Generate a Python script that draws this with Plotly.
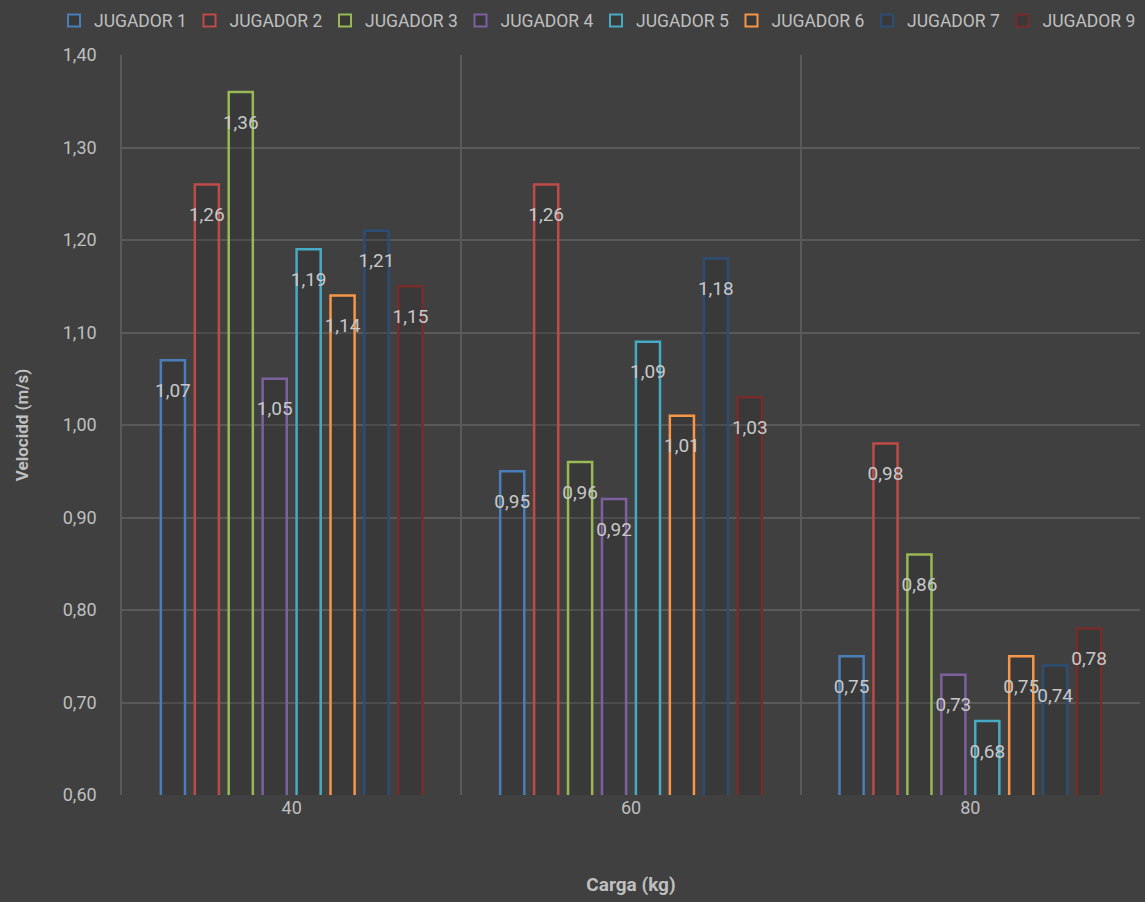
import plotly.graph_objects as go

categories = ["40", "60", "80"]
players = ["JUGADOR 1", "JUGADOR 2", "JUGADOR 3", "JUGADOR 4",
           "JUGADOR 5", "JUGADOR 6", "JUGADOR 7", "JUGADOR 9"]
jugador1 = [1.07, 0.95, 0.75]
jugador2 = [1.26, 1.26, 0.98]
jugador3 = [1.36, 0.96, 0.86]
jugador4 = [1.05, 0.92, 0.73]
jugador5 = [1.19, 1.09, 0.68]
jugador6 = [1.14, 1.01, 0.75]
jugador7 = [1.21, 1.18, 0.74]
jugador9 = [1.15, 1.03, 0.78]
series = [jugador1, jugador2, jugador3, jugador4, jugador5, jugador6, jugador7, jugador9]
colors = ["#4a7ebb", "#be4b48", "#98b954", "#7d60a0",
          "#46aac5", "#f79646", "#2c4d75", "#772c2a"]
y_ticks = [0.6, 0.7, 0.8, 0.9, 1.0, 1.1, 1.2, 1.3, 1.4]

FONT = "Roboto, Lato, sans-serif"
TXT = "#bfbfbf"

fig = go.Figure()
for i, (name, vals, col) in enumerate(zip(players, series, colors)):
    fig.add_trace(go.Bar(
        x=categories, y=vals, name=name, offsetgroup=str(i),
        marker=dict(color="rgba(30,33,38,0.22)", line=dict(color=col, width=2.5)),
        hoverinfo="y",
    ))
for i, (name, vals, col) in enumerate(zip(players, series, colors)):
    fig.add_trace(go.Scatter(
        x=categories, y=vals, mode="markers+text", offsetgroup=str(i),
        marker=dict(size=34, color="rgba(0,0,0,0)"),
        texttemplate="%{y:.2f}", textposition="bottom center",
        textfont=dict(family=FONT, size=19, color="#c8c8c8"),
        showlegend=False, hoverinfo="skip", cliponaxis=False,
    ))

fig.update_layout(
    width=1145, height=902,
    paper_bgcolor="#404040", plot_bgcolor="#404040",
    separators=",.",
    barmode="group", bargap=0.2, bargroupgap=0.29,
    scattermode="group",
    margin=dict(l=122, r=5, t=55, b=107, autoexpand=False),
    font=dict(family=FONT, color=TXT, size=18),
    legend=dict(orientation="h", xref="paper", x=-0.0668, xanchor="left",
                yref="paper", y=1.0707, yanchor="top",
                font=dict(size=17.5, color=TXT),
                entrywidth=90.5, entrywidthmode="pixels", itemsizing="constant",
                bgcolor="rgba(0,0,0,0)"),
    showlegend=True,
)
fig.update_xaxes(
    type="category", tickson="boundaries", showgrid=True, gridcolor="#5a5a5a", gridwidth=1.5,
    showline=False, ticks="", tickfont=dict(size=18, color=TXT),
    title=dict(text="<b>Carga (kg)</b>", font=dict(size=19, color=TXT), standoff=60),
)
fig.update_yaxes(
    range=[0.6, 1.4], tickvals=y_ticks, tickformat=".2f", showgrid=True,
    gridcolor="#5a5a5a", gridwidth=1.5, zeroline=False, showline=True, linecolor="#5a5a5a",
    linewidth=1.5, ticks="", tickfont=dict(size=18, color=TXT), ticklabelstandoff=20,
    title=dict(text="<b>Velocidd (m/s)</b>", font=dict(size=17, color=TXT), standoff=30),
)
fig.write_html("out.html", config={"displayModeBar": False},
               post_script="document.body.style.margin='0';")
